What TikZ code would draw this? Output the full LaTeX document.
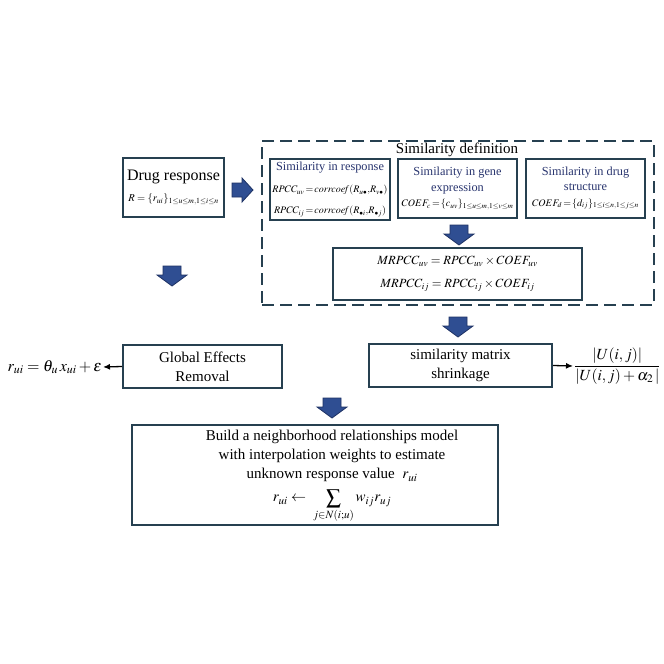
\documentclass[tikz,border=0pt]{standalone}
\usepackage{mathptmx}
\usepackage[no-math]{fontspec}
\setmainfont{Liberation Serif}
\usetikzlibrary{arrows.meta}
\definecolor{boxcol}{RGB}{38,64,80}
\definecolor{arrcol}{RGB}{47,78,146}
\definecolor{arredge}{RGB}{30,50,100}
\definecolor{titcol}{RGB}{40,52,110}
\newcommand{\fsz}[2]{\fontsize{#1}{#2}\selectfont}
\newcommand{\ttl}[1]{{\fsz{12.3}{15}\color{titcol}#1}}
\tikzset{
  box/.style={draw=boxcol, line width=2pt, rectangle, inner sep=0pt, align=center},
  dashbox/.style={draw=boxcol, line width=2.5pt, rectangle, dash pattern=on 12pt off 6pt},
  bigtxt/.style={font=\fsz{15}{19}},
  thinarr/.style={-{Latex[length=7pt,width=6pt]}, line width=1.3pt, black},
  pics/downarr/.style={code={
    \filldraw[fill=arrcol, draw=arredge, line width=0.8pt]
      (-9,-10) -- (9,-10) -- (9,-1) -- (15,-1) -- (0,10) -- (-15,-1) -- (-9,-1) -- cycle;}},
  pics/rightarr/.style={code={
    \filldraw[fill=arrcol, draw=arredge, line width=0.8pt]
      (-10,-7) -- (0,-7) -- (0,-12) -- (11,0) -- (0,12) -- (0,7) -- (-10,7) -- cycle;}}
}
\begin{document}
\begin{tikzpicture}[x=1pt,y=-1pt]
\useasboundingbox (0,0) rectangle (664,664);
\fill[white] (0,0) rectangle (664,664);

% Drug response
\node[box, minimum width=101, minimum height=59, font=\fsz{10.5}{21}] (drug) at (173.5,187.5)
  {{\fsz{16}{19}Drug response}\\$R=\{r_{ui}\}_{1\le u\le m,1\le i\le n}$};

% Similarity definition frame
\node[dashbox, minimum width=392, minimum height=164] (simdef) at (458,223) {};
\node[bigtxt] (simtitle) at (457,150) {Similarity definition};

\node[box, minimum width=120, minimum height=61, font=\fsz{10}{21}] (resp) at (330,189.5)
  {\ttl{Similarity in response}\\[1pt]
   $RPCC_{uv}\!=\!\mathit{corrcoef}(R_{u\bullet},\!R_{v\bullet})$\\
   $RPCC_{ij}\!=\!\mathit{corrcoef}(R_{\bullet i},\!R_{\bullet j})$};

\node[box, minimum width=119, minimum height=59, font=\fsz{10}{15.5}] (gene) at (457.5,188.5)
  {\ttl{Similarity in gene}\\\ttl{expression}\\
   $COEF_c\!=\!\{c_{uv}\}_{1\le u\le m,1\le v\le m}$};

\node[box, minimum width=119, minimum height=59, font=\fsz{10}{15.5}] (struct) at (585.5,188)
  {\ttl{Similarity in drug}\\\ttl{structure}\\
   $COEF_d\!=\!\{d_{ij}\}_{1\le i\le n,1\le j\le n}$};

\pic at (459,235) {downarr};

\node[box, minimum width=249, minimum height=52, font=\fsz{12.5}{23}] (mrpcc) at (457.5,274)
  {$MRPCC_{uv}=RPCC_{uv}\times COEF_{uv}$\\
   $MRPCC_{ij}=RPCC_{ij}\times COEF_{ij}$};

% arrows between blocks
\pic at (242,190) {rightarr};
\pic at (172,276) {downarr};
\pic at (458,327) {downarr};
\pic at (332,408) {downarr};

% Global effects
\node[box, bigtxt, minimum width=159, minimum height=43] (glob) at (202.5,366.5)
  {Global Effects\\Removal};
\node[anchor=east, inner sep=1pt, font=\fsz{16}{18}] (reg) at (103,367)
  {$r_{ui}=\theta_{u}\,x_{ui}+\varepsilon$};
\draw[thinarr] (glob.west) -- (reg.east);

% Shrinkage
\node[box, bigtxt, minimum width=183, minimum height=43] (shrink) at (460.5,365.5)
  {similarity matrix\\shrinkage};
\node[anchor=west, inner sep=1pt, font=\fsz{15.5}{18}] (frac) at (573,366)
  {$\displaystyle\frac{|U(i,j)|}{|U(i,j)+\alpha_2\,|}$};
\draw[thinarr] (shrink.east) -- (frac.west);

% Final model
\node[box, bigtxt, minimum width=366, minimum height=100] (model) at (315,475)
  {\hspace*{34pt}\begin{tabular}{@{}c@{}}
   Build a neighborhood relationships model\\
   with interpolation weights to estimate\\
   unknown response value \ $r_{ui}$\\[4pt]
   $r_{ui}\leftarrow\ \mathop{\vcenter{\hbox{\fsz{21}{21}$\sum$}}}\limits_{j\in N(i;u)} w_{ij}r_{uj}$\\[2pt]
   \end{tabular}};
\end{tikzpicture}
\end{document}
